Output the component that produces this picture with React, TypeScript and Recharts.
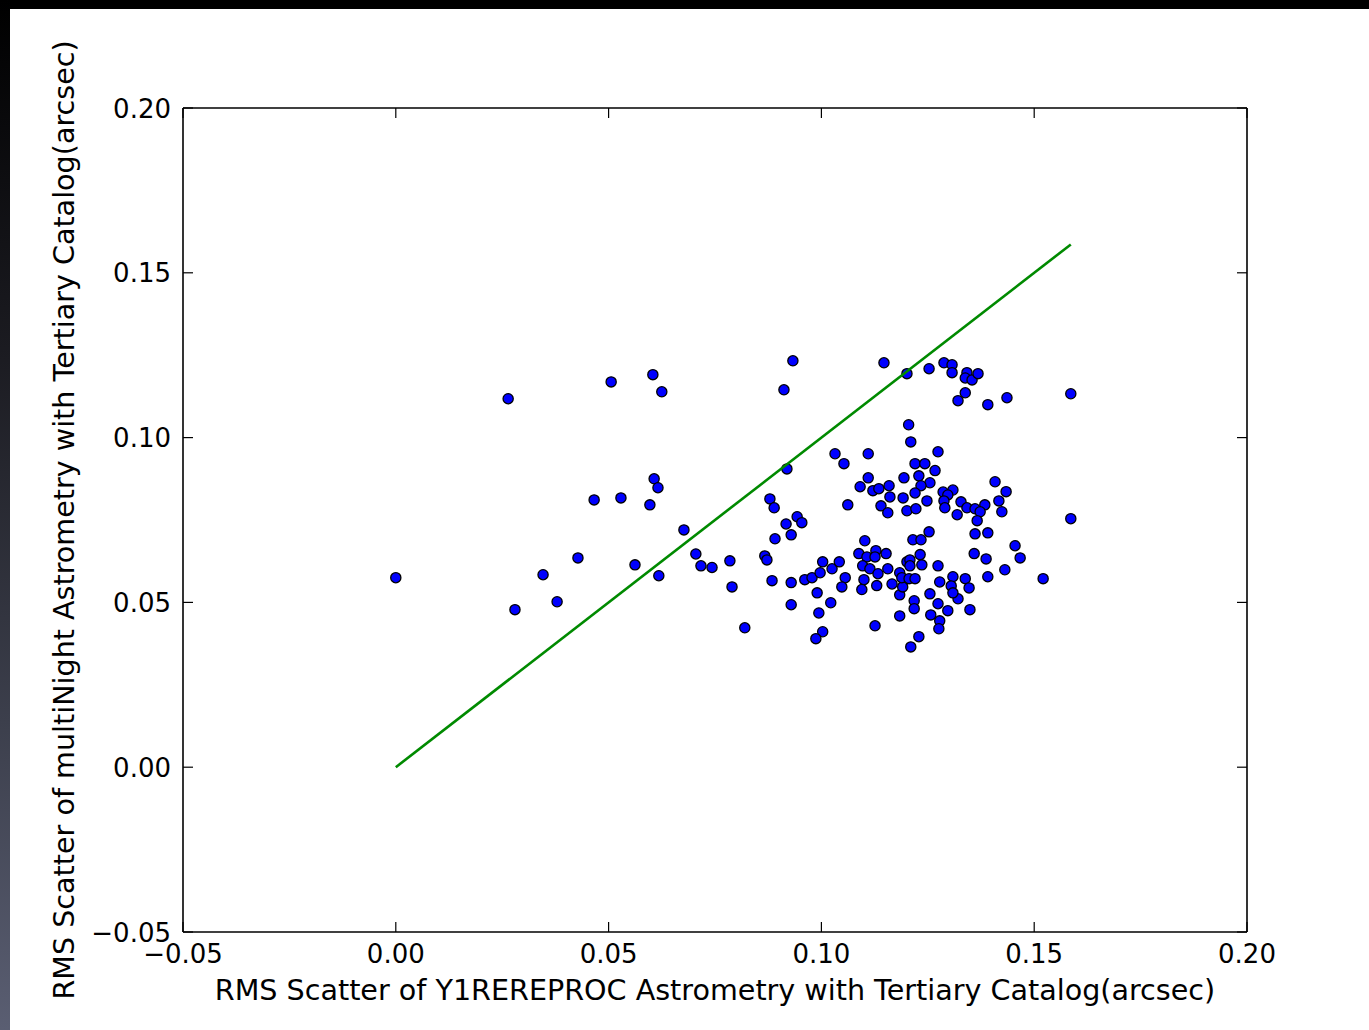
import React from 'react';
import { ScatterChart, Scatter, XAxis, YAxis } from 'recharts';

// Tick values and labels
const X_TICKS = [-0.05, 0, 0.05, 0.1, 0.15, 0.2];
const X_TICK_LABELS = ['\u22120.05', '0.00', '0.05', '0.10', '0.15', '0.20'];
const Y_TICKS = [-0.05, 0, 0.05, 0.1, 0.15, 0.2];
const Y_TICK_LABELS = ['\u22120.05', '0.00', '0.05', '0.10', '0.15', '0.20'];

const X_LABEL = 'RMS Scatter of Y1REREPROC Astrometry with Tertiary Catalog(arcsec)';
const Y_LABEL = 'RMS Scatter of multiNight Astrometry with Tertiary Catalog(arcsec)';

// RMS scatter, Y1REREPROC (x)
const X_VALUES = [
  0.0000, 0.0264, 0.0280, 0.0346, 0.0379, 0.0428, 0.0466, 0.0506, 0.0529, 0.0562,
  0.0597, 0.0604, 0.0607, 0.0616, 0.0618, 0.0625, 0.0677, 0.0705, 0.0717, 0.0743,
  0.0785, 0.0790, 0.0820, 0.0867, 0.0872, 0.0879, 0.0889, 0.0884, 0.0891, 0.0912,
  0.0919, 0.0929, 0.0917, 0.0943, 0.0954, 0.0933, 0.0929, 0.0929, 0.0961, 0.0978,
  0.0997, 0.1003, 0.1025, 0.1042, 0.1056, 0.1048, 0.0990, 0.1022, 0.0994, 0.1003,
  0.0987, 0.1032, 0.1053, 0.1062, 0.1110, 0.1147,
  0.1091, 0.1110, 0.1121, 0.1135, 0.1159, 0.1161, 0.1140, 0.1156, 0.1192, 0.1194,
  0.1201, 0.1222, 0.1210, 0.1205, 0.1220, 0.1243, 0.1267, 0.1229, 0.1255, 0.1234,
  0.1220, 0.1248, 0.1274, 0.1286, 0.1309, 0.1297, 0.1288, 0.1290, 0.1328, 0.1319,
  0.1342, 0.1361, 0.1384, 0.1373, 0.1366, 0.1361, 0.1391, 0.1408, 0.1434, 0.1417,
  0.1424, 0.1253, 0.1215, 0.1234,
  0.1201, 0.1253, 0.1288, 0.1307, 0.1307, 0.1342, 0.1338, 0.1354, 0.1368, 0.1338,
  0.1321, 0.1391, 0.1436, 0.1586,
  0.1102, 0.1088, 0.1128, 0.1152, 0.1107, 0.1126, 0.1097, 0.1114, 0.1133, 0.1156,
  0.1184, 0.1201, 0.1100, 0.1095, 0.1130, 0.1166, 0.1184, 0.1191, 0.1184, 0.1126,
  0.1232, 0.1208, 0.1236, 0.1208, 0.1189, 0.1206, 0.1220, 0.1274, 0.1278, 0.1309,
  0.1305, 0.1338, 0.1347, 0.1321, 0.1255, 0.1274, 0.1218, 0.1218, 0.1297, 0.1257,
  0.1278, 0.1276, 0.1349, 0.1229, 0.1210, 0.1309, 0.1359, 0.1387, 0.1391, 0.1455,
  0.1467, 0.1431, 0.1521, 0.1586,
];

// RMS scatter, multiNight (y)
const Y_VALUES = [
  0.0575, 0.1118, 0.0478, 0.0584, 0.0502, 0.0635, 0.0811, 0.1169, 0.0817, 0.0614,
  0.0796, 0.1191, 0.0875, 0.0848, 0.0581, 0.1139, 0.0720, 0.0647, 0.0611, 0.0606,
  0.0626, 0.0547, 0.0423, 0.0641, 0.0629, 0.0814, 0.0787, 0.0566, 0.0693, 0.1145,
  0.0905, 0.0705, 0.0738, 0.0760, 0.0742, 0.1233, 0.0560, 0.0493, 0.0569, 0.0575,
  0.0590, 0.0623, 0.0602, 0.0623, 0.0575, 0.0547, 0.0529, 0.0499, 0.0468, 0.0411,
  0.0390, 0.0951, 0.0921, 0.0796, 0.0951, 0.1227,
  0.0851, 0.0878, 0.0839, 0.0845, 0.0854, 0.0820, 0.0793, 0.0772, 0.0817, 0.0878,
  0.0778, 0.0784, 0.0987, 0.1039, 0.0921, 0.0921, 0.0900, 0.0884, 0.0863, 0.0854,
  0.0832, 0.0808, 0.0957, 0.0835, 0.0841, 0.0826, 0.0808, 0.0787, 0.0805, 0.0766,
  0.0787, 0.0784, 0.0796, 0.0775, 0.0748, 0.0708, 0.0711, 0.0866, 0.0836, 0.0808,
  0.0775, 0.0714, 0.0690, 0.0690,
  0.1194, 0.1209, 0.1227, 0.1221, 0.1197, 0.1197, 0.1181, 0.1175, 0.1194, 0.1136,
  0.1112, 0.1100, 0.1121, 0.1133,
  0.0687, 0.0648, 0.0657, 0.0648, 0.0638, 0.0638, 0.0611, 0.0602, 0.0587, 0.0602,
  0.0590, 0.0623, 0.0569, 0.0539, 0.0551, 0.0556, 0.0523, 0.0547, 0.0459, 0.0429,
  0.0645, 0.0629, 0.0614, 0.0611, 0.0575, 0.0572, 0.0572, 0.0611, 0.0562, 0.0578,
  0.0550, 0.0572, 0.0544, 0.0511, 0.0526, 0.0496, 0.0505, 0.0481, 0.0475, 0.0462,
  0.0444, 0.0420, 0.0478, 0.0396, 0.0365, 0.0529, 0.0648, 0.0632, 0.0578, 0.0672,
  0.0635, 0.0599, 0.0572, 0.0754,
];

const POINTS = X_VALUES.map((x, i) => ({ x, y: Y_VALUES[i] }));
const LINE_END = Math.max(...X_VALUES);
const ONE_TO_ONE = [
  { x: 0, y: 0 },
  { x: LINE_END, y: LINE_END },
];

const FONT = '"DejaVu Sans", sans-serif';
const TICK_LEN = 10;

const labelFor = (ticks: number[], labels: string[], v: number) => {
  const i = ticks.findIndex((t) => Math.abs(t - v) < 1e-9);
  return i >= 0 ? labels[i] : String(v);
};

const BottomTick = (p: any) => {
  const { x, y, payload } = p;
  return (
    <g>
      <line x1={x} y1={y} x2={x} y2={y - TICK_LEN} stroke="#000" strokeWidth={1.2} />
      <text x={x} y={y + 31} textAnchor="middle" fontSize={26} fontFamily={FONT} fill="#000">
        {labelFor(X_TICKS, X_TICK_LABELS, payload.value)}
      </text>
    </g>
  );
};

const TopTick = (p: any) => {
  const { x, y } = p;
  return <line x1={x} y1={y} x2={x} y2={y + TICK_LEN} stroke="#000" strokeWidth={1.2} />;
};

const LeftTick = (p: any) => {
  const { x, y, payload } = p;
  return (
    <g>
      <line x1={x} y1={y} x2={x + TICK_LEN} y2={y} stroke="#000" strokeWidth={1.2} />
      <text x={x - 12} y={y + 9.5} textAnchor="end" fontSize={26} fontFamily={FONT} fill="#000">
        {labelFor(Y_TICKS, Y_TICK_LABELS, payload.value)}
      </text>
    </g>
  );
};

const RightTick = (p: any) => {
  const { x, y } = p;
  return <line x1={x} y1={y} x2={x - TICK_LEN} y2={y} stroke="#000" strokeWidth={1.2} />;
};

const Dot = (p: any) => (
  <circle cx={p.cx} cy={p.cy} r={5.1} fill="#0000ff" stroke="#000" strokeWidth={1.3} />
);

const NoShape = () => <g />;

const XLabel = () => (
  <text x={715} y={1000} textAnchor="middle" fontSize={28.6} fontFamily={FONT} fill="#000">
    {X_LABEL}
  </text>
);

const YLabel = () => (
  <text
    x={74}
    y={520}
    transform="rotate(-90, 74, 520)"
    textAnchor="middle"
    fontSize={28.6}
    fontFamily={FONT}
    fill="#000"
  >
    {Y_LABEL}
  </text>
);

const DOMAIN: [number, number] = [-0.05, 0.2];
const AXIS_LINE = { stroke: '#000', strokeWidth: 1.6 };

export default function App() {
  return (
    <div
      style={{
        position: 'absolute',
        left: 0,
        top: 0,
        width: 1369,
        height: 1030,
        background: '#ffffff',
        overflow: 'hidden',
      }}
    >
      <div
        style={{
          position: 'absolute',
          left: 0,
          top: 0,
          width: 1369,
          height: 9,
          background: '#000',
        }}
      />
      <div
        style={{
          position: 'absolute',
          left: 0,
          top: 0,
          width: 10,
          height: 1030,
          background: 'linear-gradient(to bottom, #000000 0%, #1c1c22 35%, #3c3f4c 70%, #5a5e72 100%)',
        }}
      />
      <div style={{ position: 'absolute', left: 0, top: 0 }}>
        <ScatterChart
          width={1369}
          height={1030}
          margin={{ top: 107, right: 121, bottom: 97, left: 182 }}
        >
          <XAxis
            dataKey="x"
            type="number"
            domain={DOMAIN}
            ticks={X_TICKS}
            interval={0}
            height={1}
            tickSize={0}
            tickMargin={0}
            tickLine={false}
            axisLine={AXIS_LINE}
            tick={BottomTick}
            allowDataOverflow
            label={XLabel}
          />
          <XAxis
            xAxisId="top"
            orientation="top"
            dataKey="x"
            type="number"
            domain={DOMAIN}
            ticks={X_TICKS}
            interval={0}
            height={1}
            tickSize={0}
            tickMargin={0}
            tickLine={false}
            axisLine={AXIS_LINE}
            tick={TopTick}
            allowDataOverflow
          />
          <YAxis
            dataKey="y"
            type="number"
            domain={DOMAIN}
            ticks={Y_TICKS}
            interval={0}
            width={1}
            tickSize={0}
            tickMargin={0}
            tickLine={false}
            axisLine={AXIS_LINE}
            tick={LeftTick}
            allowDataOverflow
            label={YLabel}
          />
          <YAxis
            yAxisId="right"
            orientation="right"
            dataKey="y"
            type="number"
            domain={DOMAIN}
            ticks={Y_TICKS}
            interval={0}
            width={1}
            tickSize={0}
            tickMargin={0}
            tickLine={false}
            axisLine={AXIS_LINE}
            tick={RightTick}
            allowDataOverflow
          />
          <Scatter data={POINTS} shape={Dot} isAnimationActive={false} />
          <Scatter
            data={ONE_TO_ONE}
            xAxisId="top"
            yAxisId="right"
            shape={NoShape}
            line={{ stroke: '#008a00', strokeWidth: 2.6 }}
            isAnimationActive={false}
          />
        </ScatterChart>
      </div>
    </div>
  );
}
